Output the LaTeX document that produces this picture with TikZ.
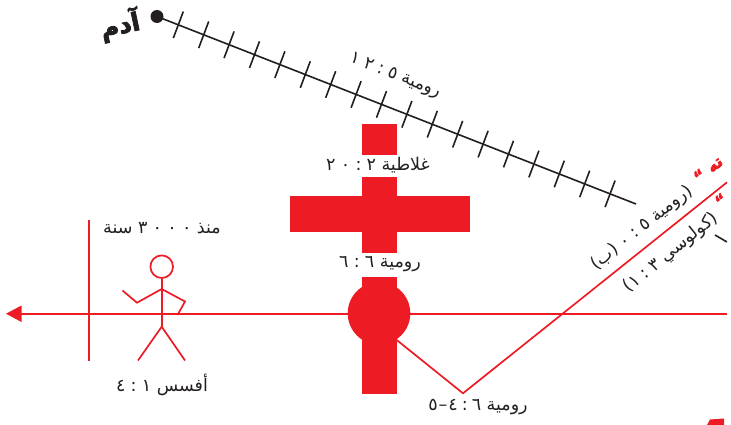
\documentclass[tikz,border=0pt]{standalone}
\usepackage{fontspec}
\TeXXeTstate=1
\newfontfamily\ar[Script=Arabic,BoldFeatures={FakeBold=3}]{DejaVu Sans}
\newfontfamily\ard[LetterSpace=30]{DejaVu Sans}
\newcommand{\nm}[1]{\beginL{\ard #1}\endL{}}
\definecolor{cred}{HTML}{ED1C24}
\definecolor{cblack}{HTML}{231F20}
\tikzset{
  redline/.style={draw=cred,line width=1.7pt},
  blackline/.style={draw=cblack,line width=1.6pt},
  redblock/.style={fill=cred,draw=none},
  lbl/.style={text=cblack,inner sep=0pt,font=\ar\fontsize{17.5}{19}\selectfont},
  redlbl/.style={inner sep=0pt,rotate=38.6,text=cred,font=\ar\bfseries\fontsize{16}{18}\selectfont}
}
\begin{document}
\begin{tikzpicture}[x=1pt,y=-1pt]
\useasboundingbox (0,0) rectangle (731,425);
% time line
\coordinate (adam) at (157,16.5);
\coordinate (now) at (636,204);
\node[circle,fill=cblack,minimum size=13pt,inner sep=0pt] (dot) at (adam) {};
\draw[blackline] (dot.center) -- (now);
\foreach \i in {0,...,17}{
  \pgfmathsetmacro{\xx}{178.3+25.4*\i}
  \pgfmathsetmacro{\yy}{16.5+(\xx-157)*0.3914}
  \draw[blackline] (\xx+5,\yy-13.3) -- (\xx-5,\yy+13.3);
}
\node[inner sep=0pt,rotate=12,text=cblack,font=\ar\bfseries\fontsize{25}{27}\selectfont] (adamlabel) at (120,25) {\beginR آدم\endR};
\node[lbl,rotate=-21.4] (rom512) at (395,76) {\beginR رومية \nm{١٢:٥}\endR};
% cross
\fill[redblock] (362,124.5) rectangle (397.3,154.7);
\fill[redblock] (362,177) rectangle (397.3,252.7);
\fill[redblock] (290,196) rectangle (469.5,232);
\fill[redblock] (362,276.7) rectangle (397.3,394);
\node[circle,fill=cred,minimum size=62.6pt,inner sep=0pt] (ball) at (379,313.3) {};
\node[lbl] (gal) at (378,165) {\beginR غلاطية \nm{٢٠:٢}\endR};
\node[lbl] (rom66) at (380,264) {\beginR رومية \nm{٦:٦}\endR};
% history line
\coordinate (right) at (727,313.7);
\coordinate (tip) at (6,313.7);
\draw[redline] (right) -- (20,313.7);
\fill[cred] (tip) -- (21.5,305.5) -- (21.5,322) -- cycle;
\coordinate (vt) at (89,220);
\coordinate (vb) at (89,360.5);
\draw[redline] (vt) -- (vb);
% stick man
\node[circle,draw=cred,line width=1.7pt,minimum size=22.6pt,inner sep=0pt] (head) at (161.7,266.7) {};
\coordinate (hip) at (161.7,326.7);
\coordinate (sh) at (161.7,289);
\draw[redline] (head.south) -- (hip);
\draw[redline] (138,360.5) -- (hip) -- (185,360.5);
\draw[redline] (122.5,290.5) -- (137,302.7) -- (sh) -- (185,301.5) -- (177.5,315);
\node[lbl] (since) at (162,228.5) {\beginR منذ \nm{٣٠٠٠} سنة\endR};
\node[lbl] (eph) at (162,385) {\beginR أفسس \nm{٤:١}\endR};
% V line
\coordinate (va) at (396.7,340);
\coordinate (vm) at (463,393.3);
\coordinate (vc) at (727,182.3);
\draw[redline] (va) -- (vm) -- (vc);
\node[lbl] (rom645) at (478,407) {\beginR رومية \nm{٦}\kern4pt\nm{:}\kern4pt\nm{٤}\kern1pt\nm{–}\kern1pt\nm{٥}\endR};
\node[lbl,rotate=38.6] (rom520) at (642,228) {\beginR(رومية \nm{٠:٥} (ب)\endR};
\node[lbl,rotate=38.6] (col) at (671,253) {\beginR(كولوسي \nm{١:٣})\endR};
\begin{scope}
\clip (0,0) rectangle (727,425);
\node[redlbl] (redtop) at (708,169) {\beginR ته “\endR};
\node[redlbl] (redmid) at (721,200) {\beginR“\endR};
\coordinate (fa) at (715,235);
\coordinate (fb) at (727,242);
\draw[blackline] (fa) -- (fb);
\fill[cred] (707,425) -- (710,419.5) -- (724,418.5) -- (724,425) -- cycle;
\end{scope}
\end{tikzpicture}
\end{document}
